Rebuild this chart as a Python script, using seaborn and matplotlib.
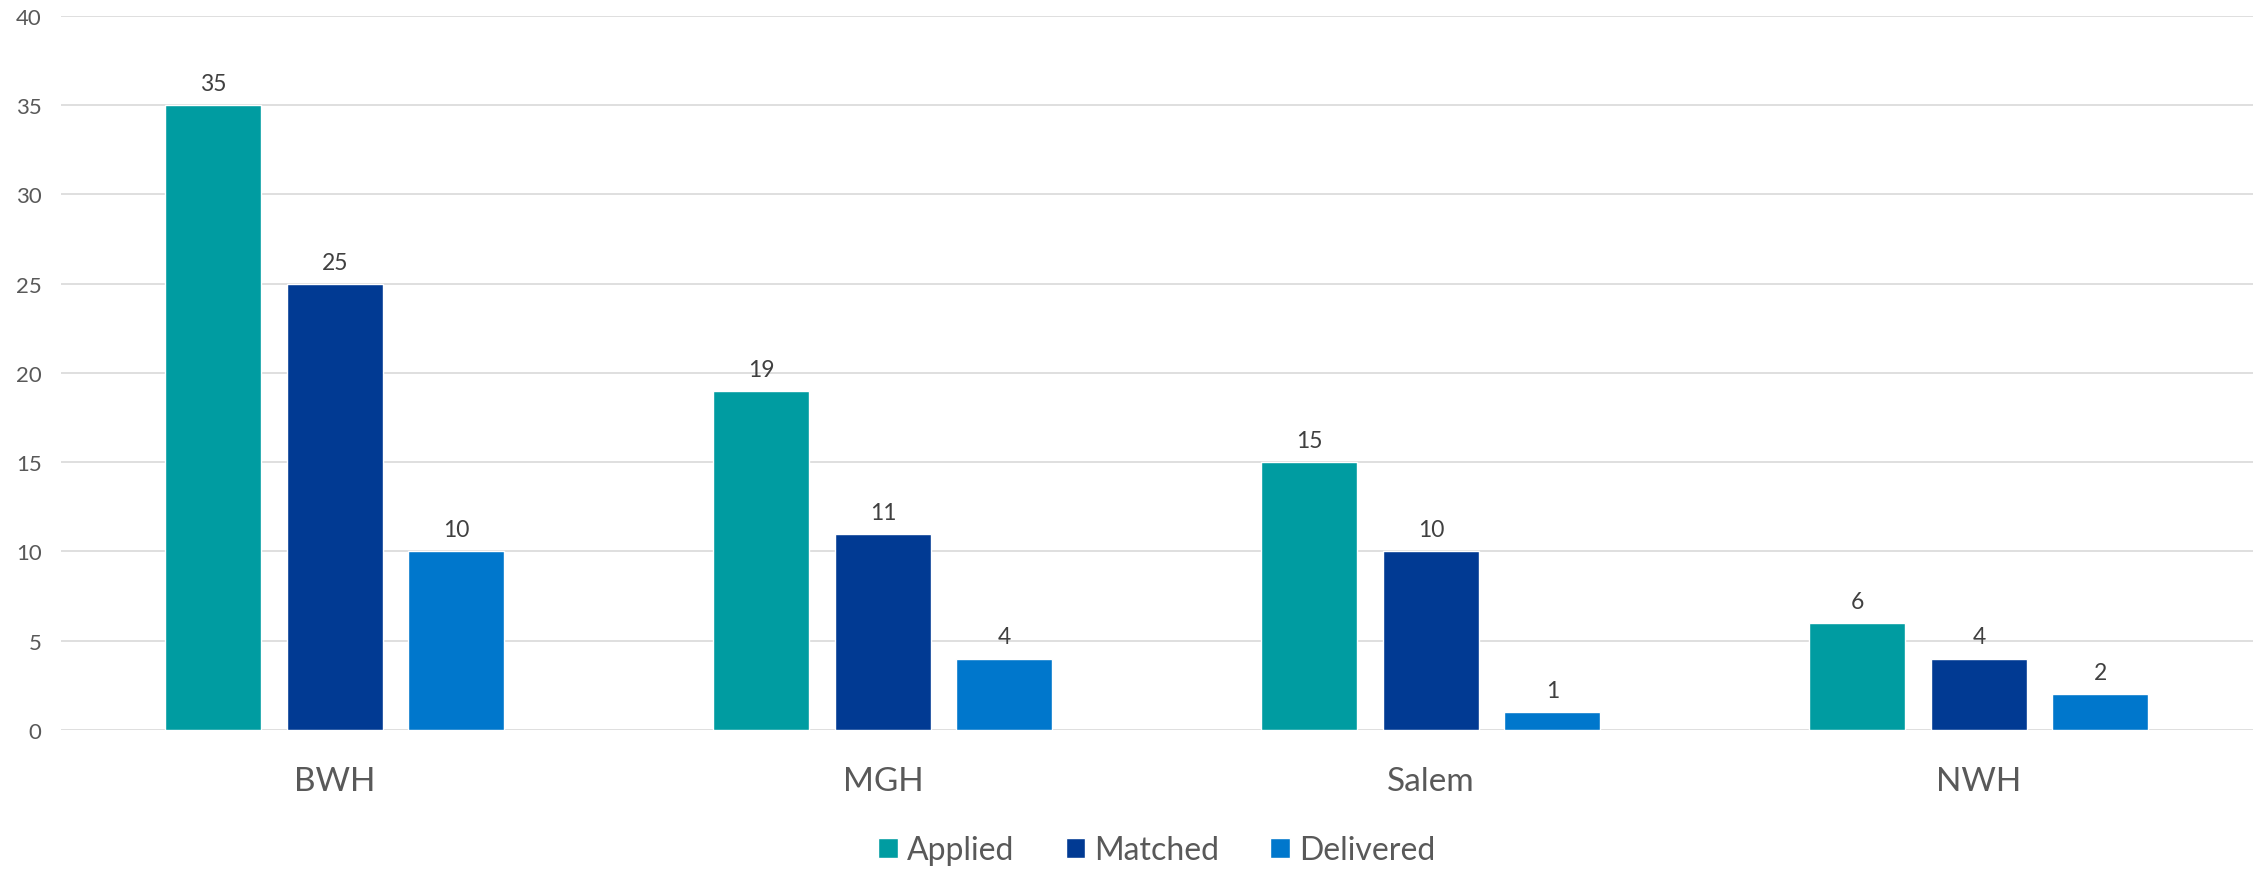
import numpy as np
import pandas as pd
import seaborn as sns
import matplotlib.pyplot as plt

sites = ["BWH", "MGH", "Salem", "NWH"]
applied = [35, 19, 15, 6]
matched = [25, 11, 10, 4]
delivered = [10, 4, 1, 2]
series = ["Applied", "Matched", "Delivered"]
colors = ["#009CA1", "#013A93", "#0077CC"]

df = pd.DataFrame({
    "site": sites * 3,
    "count": applied + matched + delivered,
    "series": [s for s in series for _ in sites],
})

sns.set_style("white")
plt.rcParams["font.family"] = ["Lato", "DejaVu Sans"]

fig = plt.figure(figsize=(22.64, 8.7), dpi=100)
ax = fig.add_axes([0.0269, 0.1598, 0.9682, 0.8207])

sns.barplot(data=df, x="site", y="count", hue="series", hue_order=series,
            palette=colors, width=0.665, gap=0.21, saturation=1,
            errorbar=None, ax=ax, zorder=3)

for c in ax.containers:
    ax.bar_label(c, padding=8, fontsize=16.5, color="#404040")

ax.set_ylim(0, 40)
ax.set_yticks(np.arange(0, 41, 5))
ax.set_xlim(-0.5, len(sites) - 0.5)
ax.yaxis.grid(True, color="#D9D9D9", linewidth=1.2, zorder=0)
ax.set_axisbelow(True)
for s in ax.spines.values():
    s.set_visible(False)
ax.set_xlabel("")
ax.set_ylabel("")
ax.tick_params(axis="y", length=0, pad=14, labelsize=16, labelcolor="#595959")
ax.tick_params(axis="x", length=0, pad=26, labelsize=24, labelcolor="#595959")

ax.legend(loc="center", bbox_to_anchor=(0.5, -0.168), ncol=3,
          frameon=False, fontsize=23, labelcolor="#595959",
          handlelength=0.6, handleheight=0.6, handletextpad=0.3,
          columnspacing=1.6)

fig.savefig("out.png", dpi=100)
